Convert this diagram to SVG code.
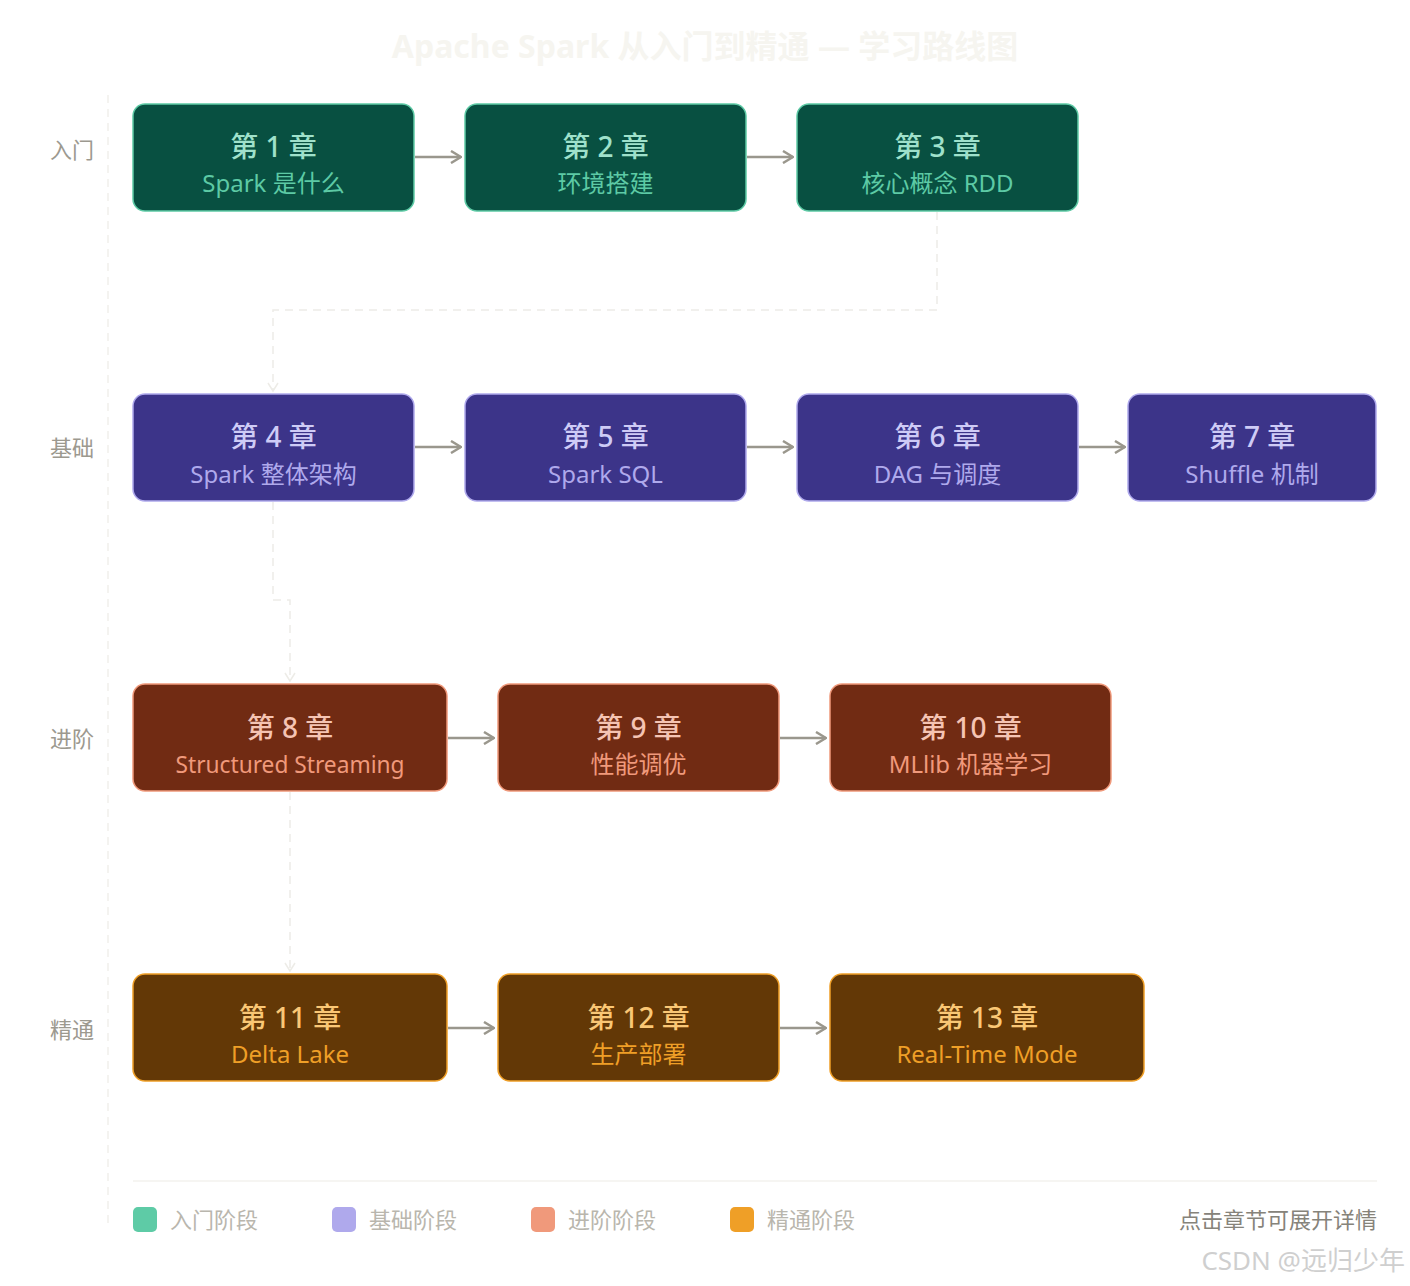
<svg xmlns="http://www.w3.org/2000/svg" width="1410" height="1286" viewBox="0 0 1410 1286">
<style>
text{font-family:"Noto Sans","Noto Sans CJK SC",sans-serif;}
.title{font-size:32px;font-weight:700;fill:#f6f5f0;text-anchor:middle;}
.row{font-size:22px;fill:#9c998f;text-anchor:middle;}
.nt{font-size:28px;font-weight:500;text-anchor:middle;}
.ns{font-size:24px;text-anchor:middle;}
.g rect{fill:#085041;stroke:#5dcaa5;stroke-width:1.5;}
.g .nt{fill:#9fe1cb;} .g .ns{fill:#5dcaa5;}
.p rect{fill:#3c3489;stroke:#afa9ec;stroke-width:1.5;}
.p .nt{fill:#cecbf6;} .p .ns{fill:#afa9ec;}
.c rect{fill:#712b13;stroke:#f0997b;stroke-width:1.5;}
.c .nt{fill:#f5c4b3;} .c .ns{fill:#f0997b;}
.a rect{fill:#633806;stroke:#ef9f27;stroke-width:1.5;}
.a .nt{fill:#fac775;} .a .ns{fill:#ef9f27;}
.arr{stroke:#9a978d;stroke-width:2.5;fill:none;marker-end:url(#ah);}
.dash{stroke:#edece7;stroke-width:1.5;fill:none;stroke-dasharray:8 6;}
.tip{stroke:#edece7;stroke-width:1.5;fill:none;}
.leg{font-size:22px;fill:#b9b6ad;}
</style>
<defs>
<marker id="ah" markerWidth="12" markerHeight="14" refX="11" refY="7" orient="auto" markerUnits="userSpaceOnUse">
<path d="M1,1 L11,7 L1,13" fill="none" stroke="#9a978d" stroke-width="2.5"/>
</marker>
</defs>
<rect width="1410" height="1286" fill="#ffffff"/>
<text class="title" x="705" y="58">Apache Spark 从入门到精通 — 学习路线图</text>

<g id="axis">
<line x1="108" y1="95" x2="108" y2="1225" stroke="#f1f0eb" stroke-width="1.5" stroke-dasharray="8 6"/>
<line x1="133" y1="1181" x2="1377" y2="1181" stroke="#f3f2ee" stroke-width="1.5"/>
</g>

<g id="row-labels">
<text class="row" x="72" y="158">入门</text>
<text class="row" x="72" y="456">基础</text>
<text class="row" x="72" y="747">进阶</text>
<text class="row" x="72" y="1038">精通</text>
</g>

<g id="connectors">
<line class="arr" x1="415" y1="157" x2="461" y2="157"/>
<line class="arr" x1="747" y1="157" x2="793" y2="157"/>
<line class="arr" x1="415" y1="447" x2="461" y2="447"/>
<line class="arr" x1="747" y1="447" x2="793" y2="447"/>
<line class="arr" x1="1079" y1="447" x2="1125" y2="447"/>
<line class="arr" x1="448" y1="738" x2="494" y2="738"/>
<line class="arr" x1="780" y1="738" x2="826" y2="738"/>
<line class="arr" x1="448" y1="1028" x2="494" y2="1028"/>
<line class="arr" x1="780" y1="1028" x2="826" y2="1028"/>
<path class="dash" d="M937,212 V310 H273 V390"/>
<path class="tip" d="M268,383 L273,391 L278,383"/>
<path class="dash" d="M273,502 V600 H290 V680"/>
<path class="tip" d="M285,673 L290,681 L295,673"/>
<path class="dash" d="M290,792 V970"/>
<path class="tip" d="M285,963 L290,971 L295,963"/>
</g>

<g id="ch1" class="g"><rect x="133" y="104" width="281" height="107" rx="12"/><text class="nt" x="273.5" y="157">第 1 章</text><text class="ns" x="273.5" y="192">Spark 是什么</text></g>
<g id="ch2" class="g"><rect x="465" y="104" width="281" height="107" rx="12"/><text class="nt" x="605.5" y="157">第 2 章</text><text class="ns" x="605.5" y="192">环境搭建</text></g>
<g id="ch3" class="g"><rect x="797" y="104" width="281" height="107" rx="12"/><text class="nt" x="937.5" y="157">第 3 章</text><text class="ns" x="937.5" y="192">核心概念 RDD</text></g>

<g id="ch4" class="p"><rect x="133" y="394" width="281" height="107" rx="12"/><text class="nt" x="273.5" y="447">第 4 章</text><text class="ns" x="273.5" y="483">Spark 整体架构</text></g>
<g id="ch5" class="p"><rect x="465" y="394" width="281" height="107" rx="12"/><text class="nt" x="605.5" y="447">第 5 章</text><text class="ns" x="605.5" y="483">Spark SQL</text></g>
<g id="ch6" class="p"><rect x="797" y="394" width="281" height="107" rx="12"/><text class="nt" x="937.5" y="447">第 6 章</text><text class="ns" x="937.5" y="483">DAG 与调度</text></g>
<g id="ch7" class="p"><rect x="1128" y="394" width="248" height="107" rx="12"/><text class="nt" x="1252" y="447">第 7 章</text><text class="ns" x="1252" y="483">Shuffle 机制</text></g>

<g id="ch8" class="c"><rect x="133" y="684" width="314" height="107" rx="12"/><text class="nt" x="290" y="738">第 8 章</text><text class="ns" x="290" y="773" textLength="229" lengthAdjust="spacingAndGlyphs">Structured Streaming</text></g>
<g id="ch9" class="c"><rect x="498" y="684" width="281" height="107" rx="12"/><text class="nt" x="638.5" y="738">第 9 章</text><text class="ns" x="638.5" y="773">性能调优</text></g>
<g id="ch10" class="c"><rect x="830" y="684" width="281" height="107" rx="12"/><text class="nt" x="970.5" y="738">第 10 章</text><text class="ns" x="970.5" y="773">MLlib 机器学习</text></g>

<g id="ch11" class="a"><rect x="133" y="974" width="314" height="107" rx="12"/><text class="nt" x="290" y="1028">第 11 章</text><text class="ns" x="290" y="1063">Delta Lake</text></g>
<g id="ch12" class="a"><rect x="498" y="974" width="281" height="107" rx="12"/><text class="nt" x="638.5" y="1028">第 12 章</text><text class="ns" x="638.5" y="1063">生产部署</text></g>
<g id="ch13" class="a"><rect x="830" y="974" width="314" height="107" rx="12"/><text class="nt" x="987" y="1028">第 13 章</text><text class="ns" x="987" y="1063">Real-Time Mode</text></g>

<g id="legend">
<rect x="133" y="1207" width="24" height="25" rx="5" fill="#5ecba6"/><text class="leg" x="170" y="1228">入门阶段</text>
<rect x="332" y="1207" width="24" height="25" rx="5" fill="#afa9ec"/><text class="leg" x="369" y="1228">基础阶段</text>
<rect x="531" y="1207" width="24" height="25" rx="5" fill="#f0997b"/><text class="leg" x="568" y="1228">进阶阶段</text>
<rect x="730" y="1207" width="24" height="25" rx="5" fill="#ef9f27"/><text class="leg" x="767" y="1228">精通阶段</text>
<text x="1377" y="1228" font-size="22" fill="#86837a" text-anchor="end">点击章节可展开详情</text>
</g>
<text x="1405" y="1270" font-size="26" fill="#cfcfcf" text-anchor="end">CSDN @远归少年</text>
</svg>
